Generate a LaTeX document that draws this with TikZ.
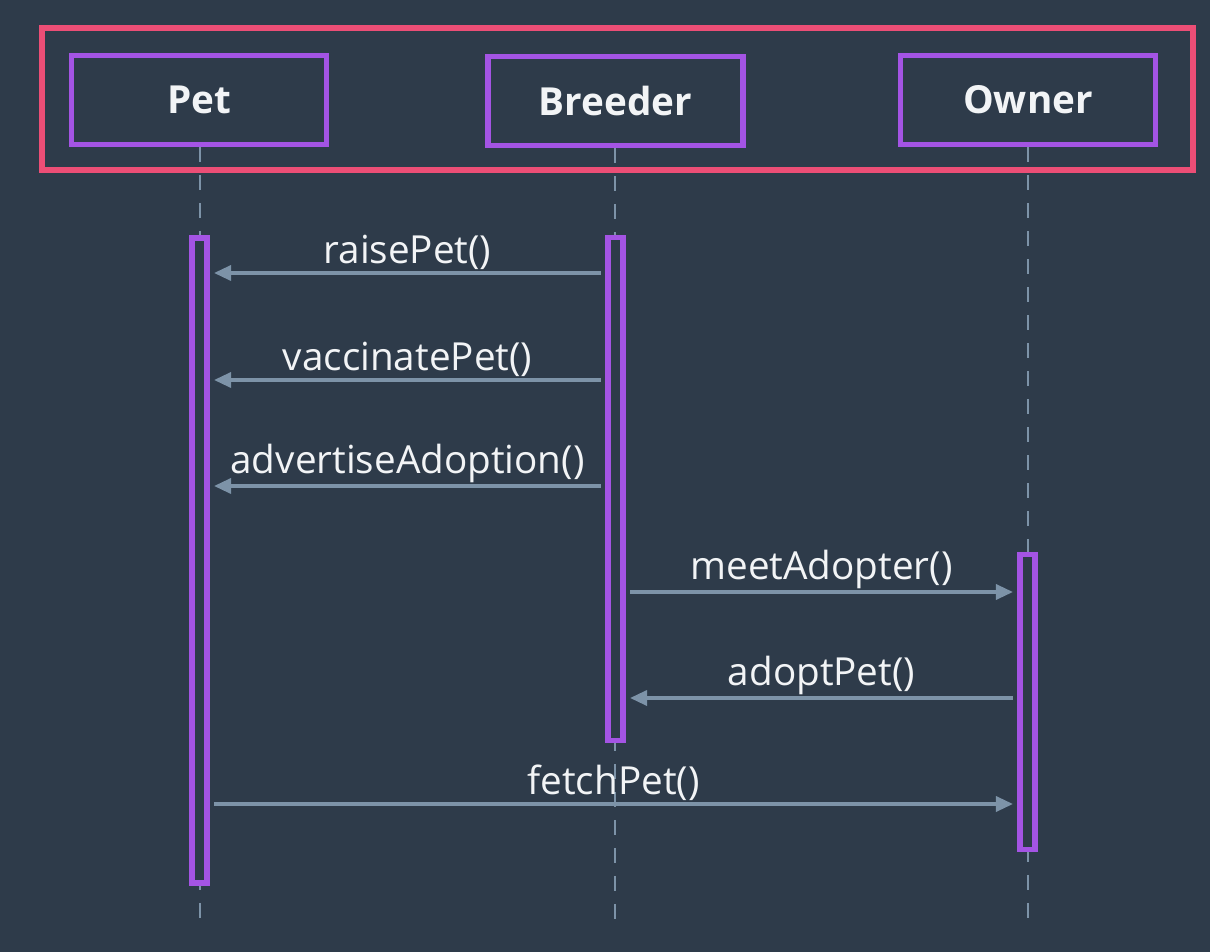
\documentclass[tikz,border=0pt]{standalone}
\usepackage{fontspec}
\setmainfont{Open Sans}
\usetikzlibrary{arrows.meta}
\definecolor{slate}{RGB}{46,59,74}
\definecolor{rose}{RGB}{236,78,118}
\definecolor{lilac}{RGB}{164,84,228}
\definecolor{steel}{RGB}{125,147,168}
\definecolor{chalk}{RGB}{242,244,246}
\newcommand*{\Msg}{\fontsize{22}{26}\selectfont}
\newcommand*{\Head}{\fontsize{22}{26}\selectfont\bfseries}

\begin{document}
\begin{tikzpicture}[x=0.02cm,y=-0.02cm]
\tikzstyle{actor}=[draw=lilac,line width=3pt,minimum width=5.1cm,minimum height=1.78cm,inner sep=0pt,text=chalk,font=\Head]
\tikzstyle{bar}=[draw=lilac,line width=3pt,fill=slate,minimum width=0.3cm,inner sep=0pt]
\tikzstyle{life}=[draw=steel,line width=1.4pt,dash pattern=on 0.3cm off 0.26cm]
\tikzstyle{msg}=[draw=steel,line width=1.9pt,shorten >=2.5pt,shorten <=2.5pt,-{Triangle[length=0.34cm,width=0.3cm]}]
\tikzstyle{lbl}=[midway,above,inner sep=1pt,text=chalk,font=\Msg]

\fill[slate] (0,0) rectangle (1210,952);

\draw[rose,line width=3pt] (42,28) rectangle (1193,170);

\node at (199,100) [actor] (pet) {Pet};
\node at (615.5,101) [actor] (breeder) {Breeder};
\node at (1028,100) [actor] (owner) {Owner};

\coordinate (pet_end) at (200,930);
\coordinate (breeder_end) at (615,930);
\coordinate (owner_end) at (1028,930);

\draw[life] (pet.south -| pet_end) -- (pet_end);
\draw[life] (breeder.south -| breeder_end) -- (breeder_end);
\draw[life] (owner.south -| owner_end) -- (owner_end);

\node at (199.5,560.5) [bar,minimum height=12.9cm] (pet_bar) {};
\node at (615.5,489) [bar,minimum height=10.05cm] (breeder_bar) {};
\node at (1027.5,702) [bar,minimum height=5.9cm] (owner_bar) {};

\draw[msg] (breeder_bar.west |- 0,273) -- node[lbl] {raisePet()} (pet_bar.east |- 0,273);
\draw[msg] (breeder_bar.west |- 0,380) -- node[lbl] {vaccinatePet()} (pet_bar.east |- 0,380);
\draw[msg] (breeder_bar.west |- 0,486) -- node[lbl] {advertiseAdoption()} (pet_bar.east |- 0,486);
\draw[msg] (breeder_bar.east |- 0,592) -- node[lbl] {meetAdopter()} (owner_bar.west |- 0,592);
\draw[msg] (owner_bar.west |- 0,698) -- node[lbl] {adoptPet()} (breeder_bar.east |- 0,698);
\draw[msg] (pet_bar.east |- 0,804) -- node[lbl] {fetchPet()} (owner_bar.west |- 0,804);

\end{tikzpicture}
\end{document}
